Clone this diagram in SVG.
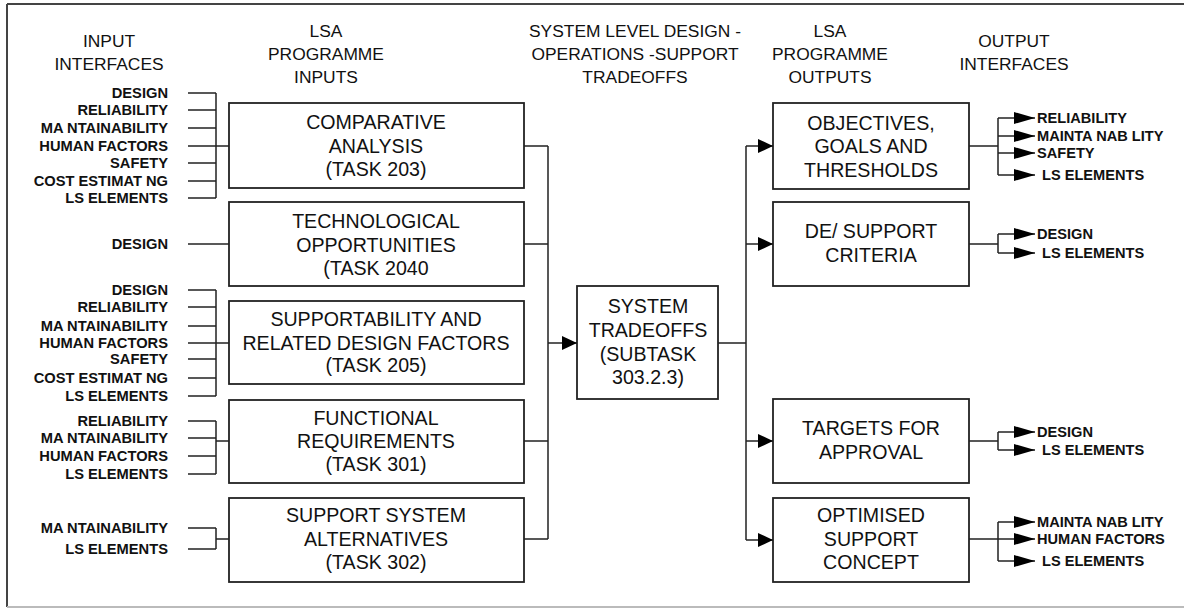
<svg xmlns="http://www.w3.org/2000/svg" width="1184" height="610" viewBox="0 0 1184 610">
  <style>
    text { font-family: "Liberation Sans", Arial, sans-serif; fill: #111; }
    .hdr { font-size: 17.4px; text-anchor: middle; }
    .box { fill: #fff; stroke: #222; stroke-width: 1.8; }
    .bt { font-size: 19.6px; text-anchor: middle; }
    .lbl { font-size: 14.7px; font-weight: bold; text-anchor: end; }
    .out { font-size: 14.6px; font-weight: bold; }
    .wire { fill: none; stroke: #222; stroke-width: 1.5; }
  </style>
  <defs>
    <marker id="arrBig" markerUnits="userSpaceOnUse" markerWidth="16" markerHeight="16" refX="15" refY="7" orient="auto">
      <path d="M0,0 L15,7 L0,14 Z" fill="#000"/>
    </marker>
    <marker id="arrOut" markerUnits="userSpaceOnUse" markerWidth="22" markerHeight="14" refX="21" refY="6" orient="auto">
      <path d="M0,0 L21,6 L0,12 Z" fill="#000"/>
    </marker>
  </defs>

  <rect width="1184" height="610" fill="#fff"/>

  <!-- frame -->
  <g id="frame">
    <line x1="7" y1="4" x2="1184" y2="4" stroke="#444" stroke-width="2"/>
    <line x1="7" y1="4" x2="7" y2="607" stroke="#444" stroke-width="2"/>
    <line x1="7" y1="607" x2="1184" y2="607" stroke="#bbb" stroke-width="2"/>
  </g>

  <!-- column headings -->
  <g id="headings">
    <text class="hdr" x="109" y="47">INPUT</text>
    <text class="hdr" x="109" y="70">INTERFACES</text>
    <text class="hdr" x="326" y="37">LSA</text>
    <text class="hdr" x="326" y="60">PROGRAMME</text>
    <text class="hdr" x="326" y="83">INPUTS</text>
    <text class="hdr" x="635" y="37">SYSTEM LEVEL DESIGN -</text>
    <text class="hdr" x="635" y="60">OPERATIONS -SUPPORT</text>
    <text class="hdr" x="635" y="83">TRADEOFFS</text>
    <text class="hdr" x="830" y="37">LSA</text>
    <text class="hdr" x="830" y="60">PROGRAMME</text>
    <text class="hdr" x="830" y="83">OUTPUTS</text>
    <text class="hdr" x="1014" y="47">OUTPUT</text>
    <text class="hdr" x="1014" y="70">INTERFACES</text>
  </g>

  <!-- input interface labels -->
  <g id="input-labels">
    <text class="lbl" x="168" y="98">DESIGN</text>
    <text class="lbl" x="168" y="115">RELIABILITY</text>
    <text class="lbl" x="168" y="133">MA NTAINABILITY</text>
    <text class="lbl" x="168" y="151">HUMAN FACTORS</text>
    <text class="lbl" x="168" y="168">SAFETY</text>
    <text class="lbl" x="168" y="186">COST ESTIMAT NG</text>
    <text class="lbl" x="168" y="203">LS ELEMENTS</text>

    <text class="lbl" x="168" y="249">DESIGN</text>

    <text class="lbl" x="168" y="295">DESIGN</text>
    <text class="lbl" x="168" y="312">RELIABILITY</text>
    <text class="lbl" x="168" y="331">MA NTAINABILITY</text>
    <text class="lbl" x="168" y="348">HUMAN FACTORS</text>
    <text class="lbl" x="168" y="364">SAFETY</text>
    <text class="lbl" x="168" y="383">COST ESTIMAT NG</text>
    <text class="lbl" x="168" y="401">LS ELEMENTS</text>

    <text class="lbl" x="168" y="426">RELIABILITY</text>
    <text class="lbl" x="168" y="443">MA NTAINABILITY</text>
    <text class="lbl" x="168" y="461">HUMAN FACTORS</text>
    <text class="lbl" x="168" y="479">LS ELEMENTS</text>

    <text class="lbl" x="168" y="533">MA NTAINABILITY</text>
    <text class="lbl" x="168" y="554">LS ELEMENTS</text>
  </g>

  <!-- programme input tasks -->
  <g id="task-203">
    <rect class="box" x="229" y="103" width="295" height="85"/>
    <text class="bt" x="376" y="129">COMPARATIVE</text>
    <text class="bt" x="376" y="153">ANALYSIS</text>
    <text class="bt" x="376" y="176">(TASK 203)</text>
  </g>
  <g id="task-2040">
    <rect class="box" x="229" y="202" width="295" height="84"/>
    <text class="bt" x="376" y="228">TECHNOLOGICAL</text>
    <text class="bt" x="376" y="252">OPPORTUNITIES</text>
    <text class="bt" x="376" y="275">(TASK 2040</text>
  </g>
  <g id="task-205">
    <rect class="box" x="229" y="301" width="295" height="83"/>
    <text class="bt" x="376" y="326">SUPPORTABILITY AND</text>
    <text class="bt" x="376" y="350">RELATED DESIGN FACTORS</text>
    <text class="bt" x="376" y="372">(TASK 205)</text>
  </g>
  <g id="task-301">
    <rect class="box" x="229" y="400" width="295" height="83"/>
    <text class="bt" x="376" y="425">FUNCTIONAL</text>
    <text class="bt" x="376" y="448">REQUIREMENTS</text>
    <text class="bt" x="376" y="471">(TASK 301)</text>
  </g>
  <g id="task-302">
    <rect class="box" x="229" y="498" width="295" height="84"/>
    <text class="bt" x="376" y="522">SUPPORT SYSTEM</text>
    <text class="bt" x="376" y="546">ALTERNATIVES</text>
    <text class="bt" x="376" y="569">(TASK 302)</text>
  </g>

  <!-- system tradeoffs -->
  <g id="tradeoffs">
    <rect class="box" x="577" y="286" width="141" height="113"/>
    <text class="bt" x="648" y="313">SYSTEM</text>
    <text class="bt" x="648" y="337">TRADEOFFS</text>
    <text class="bt" x="648" y="361">(SUBTASK</text>
    <text class="bt" x="648" y="384">303.2.3)</text>
  </g>

  <!-- programme outputs -->
  <g id="objectives">
    <rect class="box" x="773" y="103" width="196" height="86"/>
    <text class="bt" x="871" y="130">OBJECTIVES,</text>
    <text class="bt" x="871" y="153">GOALS AND</text>
    <text class="bt" x="871" y="177">THRESHOLDS</text>
  </g>
  <g id="criteria">
    <rect class="box" x="773" y="202" width="196" height="84"/>
    <text class="bt" x="871" y="238">DE/ SUPPORT</text>
    <text class="bt" x="871" y="262">CRITERIA</text>
  </g>
  <g id="targets">
    <rect class="box" x="773" y="399" width="196" height="84"/>
    <text class="bt" x="871" y="435">TARGETS FOR</text>
    <text class="bt" x="871" y="459">APPROVAL</text>
  </g>
  <g id="concept">
    <rect class="box" x="773" y="498" width="196" height="84"/>
    <text class="bt" x="871" y="522">OPTIMISED</text>
    <text class="bt" x="871" y="546">SUPPORT</text>
    <text class="bt" x="871" y="569">CONCEPT</text>
  </g>

  <!-- output interface labels -->
  <g id="output-labels">
    <text class="out" x="1037" y="123">RELIABILITY</text>
    <text class="out" x="1037" y="141">MAINTA NAB LITY</text>
    <text class="out" x="1037" y="158">SAFETY</text>
    <text class="out" x="1042" y="180">LS ELEMENTS</text>

    <text class="out" x="1037" y="239">DESIGN</text>
    <text class="out" x="1042" y="258">LS ELEMENTS</text>

    <text class="out" x="1037" y="437">DESIGN</text>
    <text class="out" x="1042" y="455">LS ELEMENTS</text>

    <text class="out" x="1037" y="527">MAINTA NAB LITY</text>
    <text class="out" x="1037" y="544">HUMAN FACTORS</text>
    <text class="out" x="1042" y="566">LS ELEMENTS</text>
  </g>

  <!-- connectors -->
  <g id="connectors" class="wire">
    <!-- inputs to task 203 -->
    <path d="M188,93 H216 M188,110 H216 M188,128 H216 M188,146 H216 M188,163 H216 M188,181 H216 M188,198 H216 M216,93 V198 M216,146 H229"/>
    <!-- input to task 2040 -->
    <path d="M188,244 H229"/>
    <!-- inputs to task 205 -->
    <path d="M188,290 H216 M188,307 H216 M188,326 H216 M188,343 H216 M188,359 H216 M188,378 H216 M188,396 H216 M216,290 V396 M216,343 H229"/>
    <!-- inputs to task 301 -->
    <path d="M188,421 H216 M188,438 H216 M188,456 H216 M188,474 H216 M216,421 V474 M216,441 H229"/>
    <!-- inputs to task 302 -->
    <path d="M188,528 H216 M188,549 H216 M216,528 V549 M216,539 H229"/>

    <!-- task outputs onto the tradeoff bus -->
    <path d="M524,146 H548 M524,244 H548 M524,441 H548 M524,539 H548 M548,146 V539"/>
    <line x1="548" y1="343" x2="577" y2="343" marker-end="url(#arrBig)"/>

    <!-- tradeoffs to programme outputs -->
    <path d="M718,343 H746 M746,146 V540"/>
    <line x1="746" y1="146" x2="773" y2="146" marker-end="url(#arrBig)"/>
    <line x1="746" y1="244" x2="773" y2="244" marker-end="url(#arrBig)"/>
    <line x1="746" y1="441" x2="773" y2="441" marker-end="url(#arrBig)"/>
    <line x1="746" y1="540" x2="773" y2="540" marker-end="url(#arrBig)"/>

    <!-- objectives to output interfaces -->
    <path d="M969,146 H998 M998,118 V175"/>
    <line x1="998" y1="118" x2="1035" y2="118" marker-end="url(#arrOut)"/>
    <line x1="998" y1="136" x2="1035" y2="136" marker-end="url(#arrOut)"/>
    <line x1="998" y1="153" x2="1035" y2="153" marker-end="url(#arrOut)"/>
    <line x1="998" y1="175" x2="1035" y2="175" marker-end="url(#arrOut)"/>

    <!-- criteria to output interfaces -->
    <path d="M969,244 H998 M998,234 V253"/>
    <line x1="998" y1="234" x2="1035" y2="234" marker-end="url(#arrOut)"/>
    <line x1="998" y1="253" x2="1035" y2="253" marker-end="url(#arrOut)"/>

    <!-- targets to output interfaces -->
    <path d="M969,441 H998 M998,432 V450"/>
    <line x1="998" y1="432" x2="1035" y2="432" marker-end="url(#arrOut)"/>
    <line x1="998" y1="450" x2="1035" y2="450" marker-end="url(#arrOut)"/>

    <!-- concept to output interfaces -->
    <path d="M969,539 H998 M998,522 V561"/>
    <line x1="998" y1="522" x2="1035" y2="522" marker-end="url(#arrOut)"/>
    <line x1="998" y1="539" x2="1035" y2="539" marker-end="url(#arrOut)"/>
    <line x1="998" y1="561" x2="1035" y2="561" marker-end="url(#arrOut)"/>
  </g>
</svg>
